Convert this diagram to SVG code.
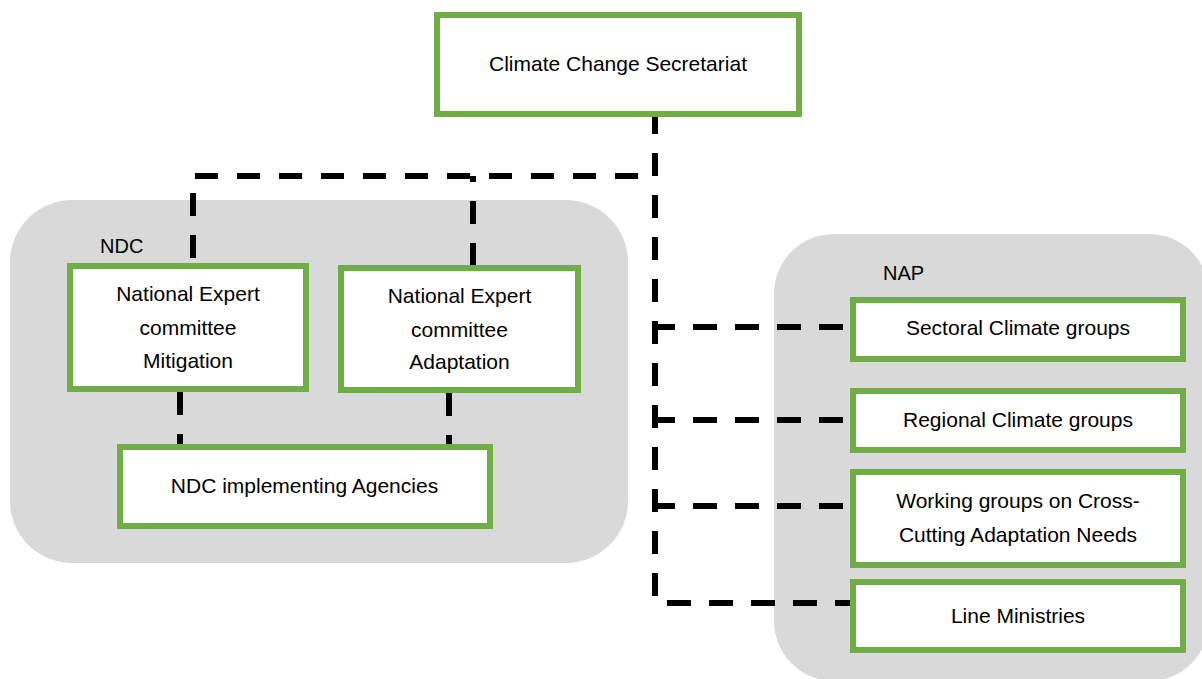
<svg xmlns="http://www.w3.org/2000/svg" width="1202" height="679" viewBox="0 0 1202 679">
  <style>
    .panel { fill: #d9d9d9; stroke: none; }
    .box { fill: #ffffff; stroke: #70ad47; stroke-width: 6; }
    .lbl { font-family: "Liberation Sans", Arial, sans-serif; font-size: 21px; fill: #000000; text-anchor: middle; }
    .grp { font-family: "Liberation Sans", Arial, sans-serif; font-size: 20px; fill: #000000; }
    .link { fill: none; stroke: #000000; stroke-width: 6; stroke-dasharray: 23 19; }
    .link-h { fill: none; stroke: #000000; stroke-width: 6; stroke-dasharray: 24 18; }
  </style>

  <!-- grouping panels -->
  <g id="panel-ndc">
    <rect class="panel" x="10" y="200" width="618" height="363" rx="62" ry="62"/>
    <text class="grp" x="100" y="253">NDC</text>
  </g>
  <g id="panel-nap">
    <rect class="panel" x="774" y="234" width="435" height="447" rx="60" ry="60"/>
    <text class="grp" x="883" y="280">NAP</text>
  </g>

  <!-- dashed connectors -->
  <g id="connectors">
    <path class="link" d="M655,117 V596" stroke-dashoffset="6"/>
    <path class="link" d="M655,176 H193 V263" stroke-dashoffset="25"/>
    <path class="link" d="M473,266 V176"/>
    <path class="link" d="M180,392 V444"/>
    <path class="link" d="M449,393 V444"/>
    <path class="link-h" d="M843,327 H655"/>
    <path class="link-h" d="M843,420 H655"/>
    <path class="link-h" d="M843,506 H655"/>
    <path class="link-h" d="M667,603 H853"/>
  </g>

  <!-- nodes -->
  <g id="secretariat">
    <rect class="box" x="437" y="15" width="362" height="99"/>
    <text class="lbl" x="618" y="71">Climate Change Secretariat</text>
  </g>
  <g id="nec-mitigation">
    <rect class="box" x="70" y="266" width="236" height="123"/>
    <text class="lbl" x="188" y="301">National Expert</text>
    <text class="lbl" x="188" y="335">committee</text>
    <text class="lbl" x="188" y="368">Mitigation</text>
  </g>
  <g id="nec-adaptation">
    <rect class="box" x="341" y="268" width="237" height="122"/>
    <text class="lbl" x="459.5" y="303">National Expert</text>
    <text class="lbl" x="459.5" y="337">committee</text>
    <text class="lbl" x="459.5" y="369">Adaptation</text>
  </g>
  <g id="ndc-agencies">
    <rect class="box" x="120" y="447" width="370" height="79"/>
    <text class="lbl" x="304.5" y="493">NDC implementing Agencies</text>
  </g>
  <g id="sectoral-groups">
    <rect class="box" x="853" y="300" width="330" height="59"/>
    <text class="lbl" x="1018" y="335">Sectoral Climate groups</text>
  </g>
  <g id="regional-groups">
    <rect class="box" x="853" y="391" width="330" height="59"/>
    <text class="lbl" x="1018" y="427">Regional Climate groups</text>
  </g>
  <g id="working-groups">
    <rect class="box" x="853" y="472" width="330" height="93"/>
    <text class="lbl" x="1018" y="508">Working groups on Cross-</text>
    <text class="lbl" x="1018" y="542">Cutting Adaptation Needs</text>
  </g>
  <g id="line-ministries">
    <rect class="box" x="853" y="582" width="330" height="68"/>
    <text class="lbl" x="1018" y="623">Line Ministries</text>
  </g>
</svg>
